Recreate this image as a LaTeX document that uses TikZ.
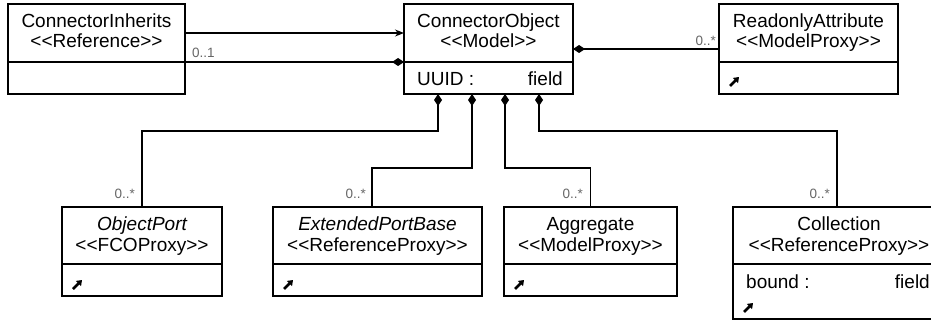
\documentclass[tikz,border=0pt]{standalone}
\usepackage{fontspec}
\setmainfont{Liberation Sans}
\usetikzlibrary{arrows.meta}
% guillemet-free stereotype brackets
\newcommand\stereotype[1]{<\kern0pt<#1>\kern0pt>}
\begin{document}
\begin{tikzpicture}[x=1pt,y=-1pt,
  umlbox/.style={draw=black, line width=1.3pt, rectangle, inner sep=0pt, outer sep=0pt, anchor=north west},
  title/.style={font=\fontsize{19}{22}\selectfont, inner sep=0pt, anchor=base},
  attr/.style={font=\fontsize{19}{22}\selectfont, inner sep=0pt},
  mult/.style={font=\fontsize{13.5}{16}\selectfont, text=black!60, inner sep=0pt},
  wire/.style={line width=1.3pt},
  owner/.style={wire, {Diamond[length=12pt,width=8pt]}-},
  linkicon/.style={line width=2.6pt, -{Triangle[length=5pt,width=7pt]}}
]
\useasboundingbox (0,0) rectangle (931,321);
\clip (0,0) rectangle (931,321);

% class boxes
\node[umlbox, minimum width=177pt, minimum height=90pt]  (ci)  at (8,4) {};
\node[umlbox, minimum width=169pt, minimum height=90pt]  (co)  at (404,4) {};
\node[umlbox, minimum width=179pt, minimum height=90pt]  (ra)  at (719,4) {};
\node[umlbox, minimum width=160pt, minimum height=89pt]  (op)  at (62,207) {};
\node[umlbox, minimum width=209pt, minimum height=89pt]  (epb) at (273,207) {};
\node[umlbox, minimum width=173pt, minimum height=89pt]  (ag)  at (504,207) {};
\node[umlbox, minimum width=212pt, minimum height=112pt] (col) at (733,207) {};

% compartment dividers
\foreach \b in {ci,co,ra}
  \draw[wire] (\b.west |- 0,62) -- (\b.east |- 0,62);
\foreach \b in {op,epb,ag,col}
  \draw[wire] (\b.west |- 0,264) -- (\b.east |- 0,264);

% names and stereotypes
\node[title] (ciN)  at (96.5,27.5) {ConnectorInherits};
\node[title] (ciS)  at (96.5,48)   {\stereotype{Reference}};
\node[title] (coN)  at (488.5,27.5) {ConnectorObject};
\node[title] (coS)  at (488.5,48)   {\stereotype{Model}};
\node[title] (raN)  at (808.5,27.5) {ReadonlyAttribute};
\node[title] (raS)  at (808.5,48)   {\stereotype{ModelProxy}};
\node[title] (opN)  at (142,230.5)  {\itshape ObjectPort};
\node[title] (opS)  at (142,251)    {\stereotype{FCOProxy}};
\node[title] (epbN) at (377.5,230.5) {\itshape ExtendedPortBase};
\node[title] (epbS) at (377.5,251)   {\stereotype{ReferenceProxy}};
\node[title] (agN)  at (590.5,230.5) {Aggregate};
\node[title] (agS)  at (590.5,251)   {\stereotype{ModelProxy}};
\node[title] (colN) at (839,230.5)  {Collection};
\node[title] (colS) at (839,251)    {\stereotype{ReferenceProxy}};

% attributes
\node[attr, anchor=base west] (coA)  at (417,85)  {UUID :};
\node[attr, anchor=base east] (coF)  at (563,85)  {field};
\node[attr, anchor=base west] (colA) at (746,288) {bound :};
\node[attr, anchor=base east] (colF) at (930,288) {field};

% link icons
\draw[linkicon] (730,86) -- (739,77);
\draw[linkicon] (73,289) -- (82,280);
\draw[linkicon] (284,289) -- (293,280);
\draw[linkicon] (515,289) -- (524,280);
\draw[linkicon] (744,312) -- (753,303);

% associations along the top row
\draw[wire, -{Stealth[length=9pt,width=7pt]}] (ci.east |- 0,33) -- (co.west |- 0,33);
\draw[owner] (co.west |- 0,62) -- (ci.east |- 0,62);
\draw[owner] (co.east |- 0,49) -- (ra.west |- 0,49);

% compositions to the lower row
\draw[owner] (co.south -| 438,0) -- (438,131) -| (op.north);
\draw[owner] (co.south -| 472,0) -- (472,168) -| (epb.north -| 372,0);
\draw[owner] (co.south -| 505,0) -- (505,168) -| (ag.north);
\draw[owner] (co.south -| 539,0) -- (539,131) -| (col.north -| 837,0);

% multiplicities
\node[mult, anchor=base west] (m1) at (192,58)   {0..1};
\node[mult, anchor=base east] (m2) at (716,45.5) {0..*};
\node[mult, anchor=base east] (m3) at (135,198)  {0..*};
\node[mult, anchor=base east] (m4) at (366,198)  {0..*};
\node[mult, anchor=base east] (m5) at (583,198)  {0..*};
\node[mult, anchor=base east] (m6) at (830,198)  {0..*};
\end{tikzpicture}
\end{document}
